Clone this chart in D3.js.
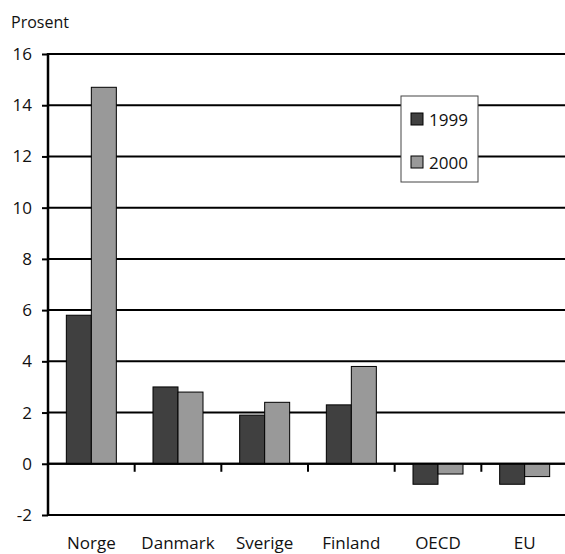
<!DOCTYPE html>
<html><head><meta charset="utf-8">
<script src="https://cdn.jsdelivr.net/npm/d3@7"></script>
<style>body{margin:0;background:#fff}svg{display:block}text{font-family:"Open Sans",sans-serif;fill:#111}</style>
</head><body><svg id="c" width="565" height="554"></svg>
<script>
const categories = ["Norge","Danmark","Sverige","Finland","OECD","EU"];
const series = ["1999","2000"];
const values1999 = [5.8, 3.0, 1.9, 2.3, -0.8, -0.8];
const values2000 = [14.7, 2.8, 2.4, 3.8, -0.4, -0.5];
const yTicks = [-2,0,2,4,6,8,10,12,14,16];
const colors = ["#404040","#999999"];

(function(){
const svg = d3.select("#c");
const pL = 48, pR = 568, pT = 54, pB = 515;
const x = d3.scaleBand().domain(categories).range([pL, pR]).paddingInner(0).paddingOuter(0);
const y = d3.scaleLinear().domain([-2,16]).range([pB, pT]);
const barW = 25;

// gridlines
svg.append("g").selectAll("line").data(yTicks).join("line")
  .attr("x1", pL).attr("x2", 565).attr("y1", d=>y(d)).attr("y2", d=>y(d))
  .attr("stroke","#000").attr("stroke-width",2);

// y axis
const ya = svg.append("g").attr("transform",`translate(${pL},0)`)
  .call(d3.axisLeft(y).tickValues(yTicks).tickSize(6).tickPadding(10).tickFormat(d=>String(d)));
ya.select(".domain").remove();
ya.selectAll(".tick line").attr("stroke","#000").attr("stroke-width",2);
ya.selectAll(".tick text").attr("font-size",17).attr("font-family","Open Sans, sans-serif").attr("fill","#111");
svg.append("line").attr("x1",pL).attr("x2",pL).attr("y1",pT-1).attr("y2",pB+1).attr("stroke","#000").attr("stroke-width",2.5);

// bars
const data = categories.map((c,i)=>({c, v:[values1999[i], values2000[i]]}));
const g = svg.append("g");
data.forEach(d=>{
  d.v.forEach((v,j)=>{
    const cx = x(d.c) + x.bandwidth()/2;
    g.append("rect")
      .attr("x", cx - barW + j*barW).attr("width", barW)
      .attr("y", y(Math.max(0,v))).attr("height", Math.abs(y(v)-y(0)))
      .attr("fill", colors[j]).attr("stroke","#000").attr("stroke-width",1);
  });
});

// zero line & category ticks
svg.append("line").attr("x1",pL).attr("x2",565).attr("y1",y(0)).attr("y2",y(0)).attr("stroke","#000").attr("stroke-width",2);
svg.append("g").selectAll("line").data(categories.slice(1)).join("line")
  .attr("x1",d=>x(d)).attr("x2",d=>x(d)).attr("y1",y(0)).attr("y2",y(0)+8)
  .attr("stroke","#000").attr("stroke-width",2);

// category labels
svg.append("g").selectAll("text").data(categories).join("text")
  .attr("x", d=>x(d)+x.bandwidth()/2).attr("y", 549)
  .attr("text-anchor","middle").attr("font-size",17).text(d=>d);

// axis title
svg.append("text").attr("x",11).attr("y",28).attr("font-size",16).text("Prosent");

// legend
const lg = svg.append("g");
lg.append("rect").attr("x",401).attr("y",96).attr("width",77).attr("height",86)
  .attr("fill","#fff").attr("stroke","#444").attr("stroke-width",1);
series.forEach((s,j)=>{
  const yy = j===0 ? 113 : 156;
  lg.append("rect").attr("x",411).attr("y",yy).attr("width",12).attr("height",12)
    .attr("fill",colors[j]).attr("stroke","#000").attr("stroke-width",1);
  lg.append("text").attr("x",429).attr("y",yy+13).attr("font-size",17).text(s);
});
})();
</script></body></html>
